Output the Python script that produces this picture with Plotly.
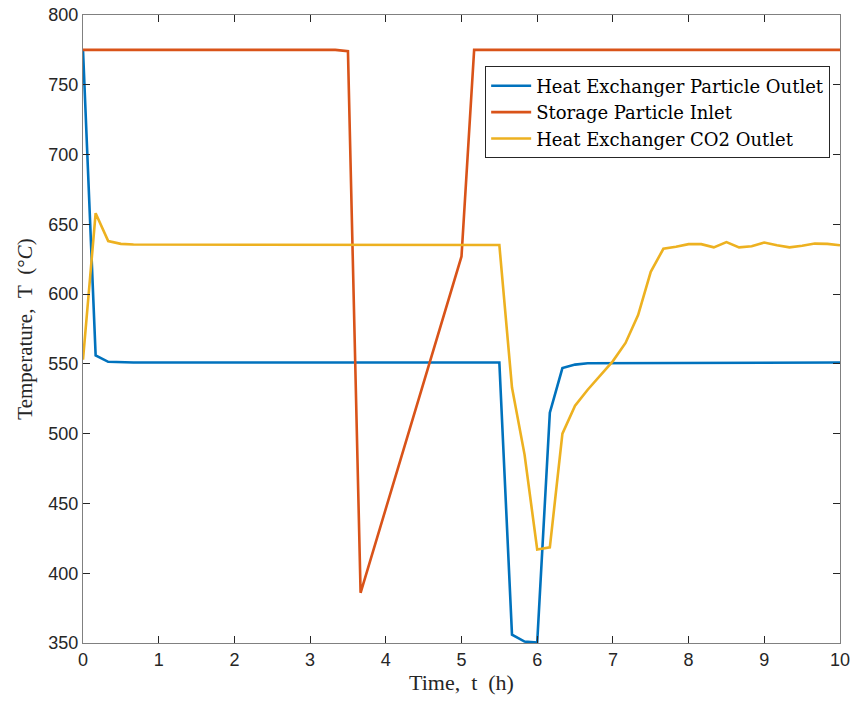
import plotly.graph_objects as go

# Heat exchanger particle outlet temperature (°C) over time (h)
t_hx_particle = [0.0, 0.167, 0.333, 0.5, 0.667, 1.0, 2.0, 3.0, 4.0, 5.0, 5.5,
                 5.667, 5.833, 6.0, 6.167, 6.333, 6.5, 6.667, 7.0, 7.833, 8.5, 9.0, 10.0]
T_hx_particle = [775, 556, 551.5, 551, 551, 551, 551, 551, 551, 551, 551,
                 356, 351, 350.3, 515, 547, 549.5, 550.5, 550.5, 551, 551, 551, 551]

# Storage particle inlet temperature (°C)
t_storage_inlet = [0.0, 3.333, 3.5, 3.667, 5.0, 5.167, 10.0]
T_storage_inlet = [775, 775, 774, 386, 627, 775, 775]

# Heat exchanger CO2 outlet temperature (°C)
t_hx_co2 = [0.0, 0.167, 0.333, 0.5, 0.667, 1.0, 2.0, 3.0, 4.0, 5.0, 5.5,
            5.667, 5.833, 6.0, 6.167, 6.333, 6.5, 6.667, 6.833, 7.0, 7.167, 7.333,
            7.5, 7.667, 7.833, 8.0, 8.167, 8.333, 8.5, 8.667, 8.833, 9.0, 9.167,
            9.333, 9.5, 9.667, 9.833, 10.0]
T_hx_co2 = [553, 658, 638, 636, 635.5, 635.5, 635.3, 635.2, 635.2, 635.2, 635.2,
            533, 485, 417, 418.5, 500, 520, 531.5, 542, 552, 565, 585,
            616, 632.5, 634, 635.8, 635.8, 633.5, 637.3, 633.5, 634.3, 637, 635,
            633.5, 634.7, 636.2, 636, 635]

x_ticks = [0, 1, 2, 3, 4, 5, 6, 7, 8, 9, 10]
y_ticks = [350, 400, 450, 500, 550, 600, 650, 700, 750, 800]

series = [
    ("Heat Exchanger Particle Outlet", t_hx_particle, T_hx_particle, "#0072BD"),
    ("Storage Particle Inlet", t_storage_inlet, T_storage_inlet, "#D95319"),
    ("Heat Exchanger CO2 Outlet", t_hx_co2, T_hx_co2, "#EDB120"),
]

fig = go.Figure()
for name, tx, ty, color in series:
    fig.add_trace(go.Scatter(x=tx, y=ty, mode="lines", name=name,
                             line=dict(color=color, width=2.6)))

serif = "Liberation Serif, Times New Roman, serif"
legend_serif = "DejaVu Serif, Liberation Serif, serif"
sans = "Liberation Sans, Arial, sans-serif"
axis_color = "#262626"

axis_common = dict(
    showgrid=False, zeroline=False, showline=True, mirror="ticks",
    linecolor="#808080", linewidth=1, ticks="inside", ticklen=7,
    tickcolor=axis_color, tickfont=dict(family=sans, size=18, color=axis_color),
    automargin=False,
)

fig.update_layout(
    width=856, height=705,
    margin=dict(l=83, r=16, t=15, b=62),
    paper_bgcolor="white", plot_bgcolor="white",
    xaxis=dict(range=[0, 10], tickvals=x_ticks,
               title=dict(text="Time,\u2002t\u2002(h)",
                          font=dict(family=serif, size=22, color=axis_color),
                          standoff=4),
               **axis_common),
    yaxis=dict(range=[350, 800], tickvals=y_ticks,
               title=dict(text="Temperature,\u2002T\u2002(°<i>C</i>)",
                          font=dict(family=serif, size=21, color=axis_color), standoff=10),
               **axis_common),
    legend=dict(x=0.987, y=0.918, xanchor="right", yanchor="top",
                bgcolor="white", bordercolor=axis_color, borderwidth=1,
                font=dict(family=legend_serif, size=18, color="black"),
                tracegroupgap=0, itemwidth=40),
    showlegend=True,
)

fig.write_html("out.html")
